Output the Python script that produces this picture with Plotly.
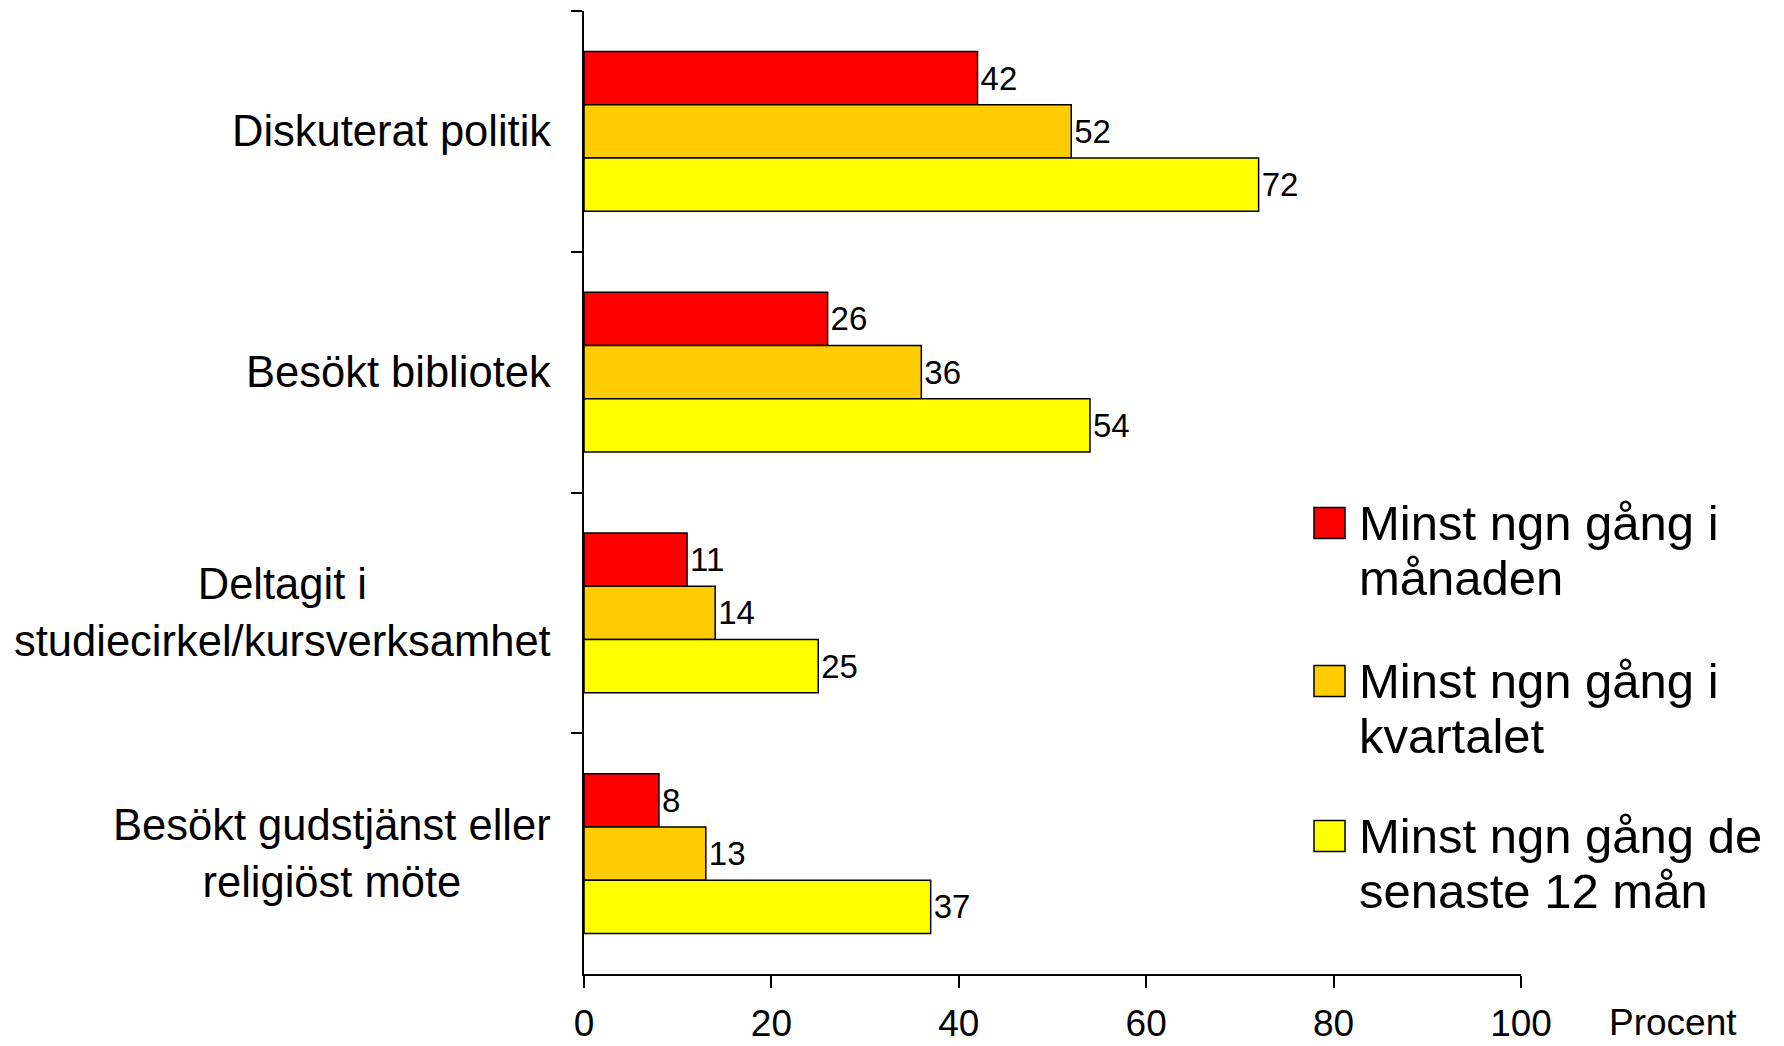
import plotly.graph_objects as go

categories = ["Diskuterat politik", "Besökt bibliotek", "Deltagit i studiecirkel/kursverksamhet",
              "Besökt gudstjänst eller religiöst möte"]
category_labels = ["Diskuterat politik", "Besökt bibliotek", "Deltagit i<br>studiecirkel/kursverksamhet",
                   "Besökt gudstjänst eller<br>religiöst möte"]
series_names = ["Minst ngn gång i månaden", "Minst ngn gång i kvartalet", "Minst ngn gång de senaste 12 mån"]
legend_lines = [["Minst ngn gång i", "månaden"], ["Minst ngn gång i", "kvartalet"],
                ["Minst ngn gång de", "senaste 12 mån"]]
monthly = [42, 26, 11, 8]
quarterly = [52, 36, 14, 13]
yearly = [72, 54, 25, 37]
series_values = [monthly, quarterly, yearly]
colors = ["#FF0000", "#FFCC00", "#FFFF00"]
x_ticks = [0, 20, 40, 60, 80, 100]

FONT = "Liberation Sans, Arial, sans-serif"

fig = go.Figure()
for name, vals, col in zip(series_names, series_values, colors):
    fig.add_trace(go.Bar(
        y=categories, x=vals, name=name, orientation="h",
        marker=dict(color=col, line=dict(color="black", width=1.5)),
        text=[str(v) for v in vals], textposition="outside",
        textfont=dict(family=FONT, size=33, color="black"),
        constraintext="none", cliponaxis=False, showlegend=False,
    ))

# page has an 8px body margin; figure sized to fit the window
OFF = 8
W, H = 1784 - OFF, 1046 - OFF
L, R, T, B = 584 - OFF, 263, 11 - OFF, 72
pw, ph = W - L - R, H - T - B

def px(xpage):
    return (xpage - OFF - L) / pw

def py(ypage):
    return (H - B - (ypage - OFF)) / ph

annotations = []
for cat, lab in zip(categories, category_labels):
    annotations.append(dict(
        x=0, xref="paper", y=cat, yref="y", text=lab, showarrow=False,
        xanchor="right", yanchor="middle", align="center", xshift=-31,
        font=dict(family=FONT, size=43.5, color="black"),
    ))

shapes = []
swatch_centers = [523, 681, 836]
line_gap = 55
for lines, col, cy in zip(legend_lines, colors, swatch_centers):
    shapes.append(dict(
        type="rect", xref="paper", yref="paper",
        x0=px(1314), x1=px(1345), y0=py(cy + 15.5), y1=py(cy - 15.5),
        fillcolor=col, line=dict(color="black", width=1.5),
    ))
    for i, ln in enumerate(lines):
        annotations.append(dict(
            x=px(1357), xref="paper", y=py(cy + i * line_gap), yref="paper", text=ln,
            showarrow=False, xanchor="left", yanchor="middle", align="left",
            font=dict(family=FONT, size=49, color="black"),
        ))

annotations.append(dict(
    x=px(1673), xref="paper", y=py(1022), yref="paper", text="Procent",
    showarrow=False, xanchor="center", yanchor="middle",
    font=dict(family=FONT, size=37, color="black"),
))

fig.update_layout(
    width=W, height=H,
    margin=dict(l=L, r=R, t=T, b=B, pad=0, autoexpand=False),
    paper_bgcolor="white", plot_bgcolor="white",
    barmode="group", bargap=0.336, bargroupgap=0,
    showlegend=False,
    annotations=annotations, shapes=shapes,
    font=dict(family=FONT, color="black"),
)
fig.update_xaxes(
    range=[0, 100], tickvals=x_ticks, ticktext=[str(t) for t in x_ticks],
    showgrid=False, zeroline=False, showline=True, linecolor="black", linewidth=1.5,
    ticks="outside", ticklen=12, tickcolor="black", tickwidth=1.5, automargin=False,
    tickfont=dict(family=FONT, size=37, color="black"), ticklabelstandoff=4,
)
fig.update_yaxes(
    range=[3.5, -0.5], categoryorder="array", categoryarray=categories,
    showgrid=False, zeroline=False, showline=True, linecolor="black", linewidth=1.5,
    ticks="outside", ticklen=11, tickcolor="black", tickwidth=1.5, tickson="boundaries",
    showticklabels=False, automargin=False,
)

fig.write_html("out.html")
